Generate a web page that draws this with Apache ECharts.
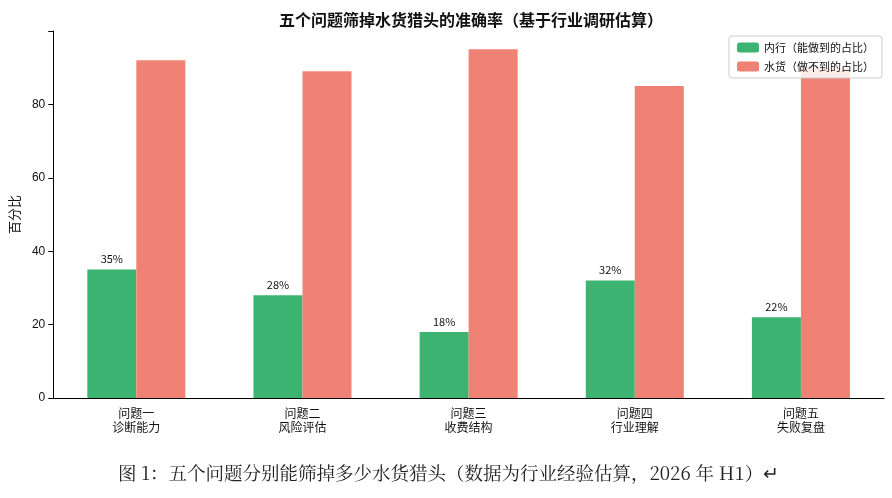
<!DOCTYPE html><html><head><meta charset="utf-8"><script src="https://cdn.jsdelivr.net/npm/echarts@6/dist/echarts.min.js"></script></head><body style="margin:0"><div id="c" style="width:892px;height:498px"></div><script>
const categories=['问题一\n诊断能力','问题二\n风险评估','问题三\n收费结构','问题四\n行业理解','问题五\n失败复盘'];
const insider=[35,28,18,32,22];
const fake=[92,89,95,85,90];
const noteY=[53,53,53,53,53];
const c=echarts.init(document.getElementById('c'));
const F='"Noto Sans CJK SC"';
c.setOption({
title:{text:'五个问题筛掉水货猎头的准确率（基于行业调研估算）',left:466,top:7,textAlign:'center',textStyle:{fontSize:16,fontWeight:'bold',fontFamily:F,color:'#111'}},
legend:{right:10,top:36,orient:'vertical',itemWidth:22,itemHeight:10,itemGap:8,borderColor:'#ccc',borderWidth:1,borderRadius:3,padding:[6,8],backgroundColor:'rgba(255,255,255,0.85)',textStyle:{fontFamily:F,fontSize:11,color:'#111'},z:10},
grid:{left:52,right:8,top:31,bottom:100,containLabel:false},
xAxis:{type:'category',data:categories,axisLine:{lineStyle:{color:'#000'}},axisTick:{alignWithLabel:true,lineStyle:{color:'#000'}},axisLabel:{fontFamily:F,fontSize:12,color:'#111',lineHeight:14}},
yAxis:{type:'value',min:0,max:100,interval:20,name:'百分比',nameLocation:'middle',nameGap:30,nameTextStyle:{fontFamily:F,fontSize:13,color:'#111'},axisLine:{show:true,lineStyle:{color:'#000'}},axisTick:{show:true,lineStyle:{color:'#000'}},splitLine:{show:false},axisLabel:{fontSize:12,color:'#111',formatter:v=>v===100?'':v}},
series:[
{name:'内行（能做到的占比）',type:'bar',data:insider,barWidth:49,barGap:'0%',itemStyle:{color:'#3cb371'},label:{show:true,position:'top',formatter:'{c}%',fontSize:11,color:'#111',fontFamily:F}},
{name:'水货（做不到的占比）',type:'bar',data:fake,barWidth:49,itemStyle:{color:'#f08275'},z:2},
{type:'scatter',data:noteY.map((v,i)=>[i,v]),symbolSize:1,itemStyle:{opacity:0},silent:true,zlevel:1,label:{show:true,position:'inside',formatter:'绝大多数\n做不到',fontSize:9,lineHeight:11,color:'#999',fontFamily:F},tooltip:{show:false}}
],
graphic:[{type:'text',left:118,top:464,style:{text:'图 1：五个问题分别能筛掉多少水货猎头（数据为行业经验估算，2026 年 H1）↵',font:'18.5px "Noto Serif CJK SC", "Noto Sans CJK SC", serif',fill:'#222'}}]
});
</script></body></html>
